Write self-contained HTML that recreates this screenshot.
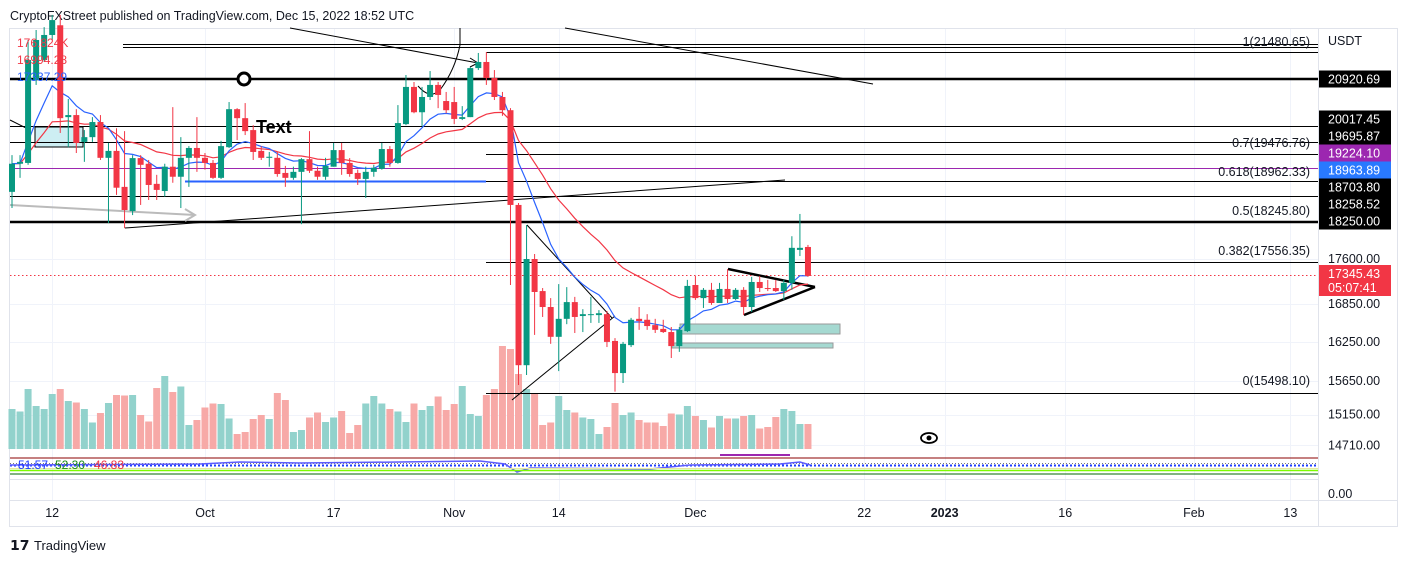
<!DOCTYPE html>
<html><head><meta charset="utf-8"><style>
html,body{margin:0;padding:0;background:#fff;}
svg{display:block;font-family:"Liberation Sans",sans-serif;}
</style></head><body>
<svg id="chart" width="1407" height="561" viewBox="0 0 1407 561" xmlns="http://www.w3.org/2000/svg">
<rect x="0" y="0" width="1407" height="561" fill="#fff"/>
<text x="10" y="20" font-size="12.5" fill="#131722">CryptoFXStreet published on TradingView.com, Dec 15, 2022 18:52 UTC</text>
<g id="grid" stroke="#f0f3fa" stroke-width="1"></g>
<rect x="9.5" y="28.5" width="1388" height="498" fill="none" stroke="#e0e3eb"/>
<line x1="1318.5" y1="28" x2="1318.5" y2="527" stroke="#e0e3eb"/>
<line x1="9" y1="500.5" x2="1398" y2="500.5" stroke="#e0e3eb"/>
<line x1="9" y1="479.5" x2="1318" y2="479.5" stroke="#e0e3eb"/>
<g id="vol"></g>
<g id="drawings">
 <rect x="35" y="127" width="48" height="20" fill="#cdeef3" stroke="#000" stroke-width="1"/>
 <line x1="123" y1="44.5" x2="1318" y2="44.5" stroke="#000"/>
 <line x1="123" y1="47.5" x2="1318" y2="47.5" stroke="#000"/>
 <line x1="486" y1="52.5" x2="1318" y2="52.5" stroke="#000"/>
 <line x1="10" y1="79" x2="1318" y2="79" stroke="#000" stroke-width="2.5"/>
 <line x1="10" y1="126.5" x2="1318" y2="126.5" stroke="#000"/>
 <line x1="10" y1="142.5" x2="1318" y2="142.5" stroke="#000"/>
 <line x1="486" y1="154.5" x2="1318" y2="154.5" stroke="#000"/>
 <line x1="10" y1="168.5" x2="1318" y2="168.5" stroke="#9c27b0"/>
 <line x1="185" y1="181.5" x2="486" y2="181.5" stroke="#2962ff" stroke-width="2"/>
 <line x1="486" y1="181.5" x2="1318" y2="181.5" stroke="#000"/>
 <line x1="10" y1="196.5" x2="1318" y2="196.5" stroke="#000"/>
 <line x1="10" y1="222" x2="1318" y2="222" stroke="#000" stroke-width="2.5"/>
 <line x1="486" y1="262.5" x2="1318" y2="262.5" stroke="#000"/>
 <line x1="486" y1="393.5" x2="1318" y2="393.5" stroke="#000"/>
 <line x1="10" y1="275.5" x2="1318" y2="275.5" stroke="#f23645" stroke-dasharray="1.5,2.5"/>
 <line x1="290" y1="28" x2="478" y2="63" stroke="#000"/>
 <path d="M470,58 L478,63 L470,67" fill="none" stroke="#000"/>
 <line x1="565" y1="28" x2="873" y2="84" stroke="#000"/>
 <line x1="125" y1="228" x2="785" y2="180" stroke="#000"/>
 <line x1="10" y1="205" x2="195" y2="215" stroke="#bbb" stroke-width="2"/>
 <path d="M185,209 L195,215 L185,221" fill="none" stroke="#bbb" stroke-width="2"/>
 <line x1="10" y1="120" x2="30" y2="130" stroke="#000"/>
 <path d="M460,28 L460,45 Q455,70 440,90" fill="none" stroke="#000"/>
 <path d="M418,86 Q430,100 440,90" fill="none" stroke="#000"/>
 <line x1="527" y1="225" x2="612" y2="318" stroke="#000"/>
 <line x1="512" y1="400" x2="615" y2="316" stroke="#000"/>
 <line x1="728" y1="269" x2="815" y2="287" stroke="#000" stroke-width="2.5"/>
 <line x1="744" y1="315" x2="815" y2="287" stroke="#000" stroke-width="2.5"/>
 <rect x="680" y="324" width="160" height="10" fill="#a5d9d1" stroke="#999"/>
 <rect x="672" y="343" width="161" height="5" fill="#a5d9d1" stroke="#999"/>
 <circle cx="244" cy="79" r="6" fill="#fff" stroke="#000" stroke-width="3"/>
 <text x="256" y="133" font-size="18" font-weight="bold" fill="#000">Text</text>
</g>
<g id="ma"></g>
<g id="candles"></g>
<g font-size="12">
 <text x="17" y="47" fill="#f23645">176.824K</text>
 <text x="17" y="64" fill="#f23645">16994.28</text>
 <text x="17" y="81" fill="#2962ff">17337.29</text>
</g>
<g>
 <line x1="10" y1="458" x2="1318" y2="458" stroke="#8b0000"/>
 <line x1="10" y1="463.5" x2="1318" y2="463.5" stroke="#777" stroke-dasharray="1,2"/>
 <line x1="10" y1="465.5" x2="1318" y2="465.5" stroke="#1e3cff" stroke-width="2" stroke-dasharray="2,2"/>
 <path d="M10,465 L200,464 L240,462 L300,463 L400,462 L480,461 L505,464 L517,472 L530,468 L650,469 L690,465 L780,464 L800,462 L810,465" fill="none" stroke="#5b5bff" stroke-width="1.5"/>
 <line x1="10" y1="468.5" x2="1318" y2="468.5" stroke="#e8e8a0"/>
 <line x1="10" y1="470.5" x2="1318" y2="470.5" stroke="#7cfc00" stroke-width="1.5"/>
 <line x1="10" y1="474" x2="1318" y2="474" stroke="#006400"/>
 <line x1="720" y1="455" x2="790" y2="455" stroke="#9c27b0" stroke-width="2"/>
 <text x="18" y="469" font-size="12" fill="#1e3cff">51.57</text>
 <text x="55" y="469" font-size="12" fill="#1a8c1a">52.30</text>
 <text x="94" y="469" font-size="12" fill="#f23645">46.83</text>
</g>
<g transform="translate(929,438)">
 <ellipse cx="0" cy="0" rx="8" ry="5" fill="none" stroke="#000" stroke-width="1.8"/>
 <circle cx="0" cy="0" r="2.5" fill="#000"/>
</g>
<g id="yaxis" font-size="12.5"></g>
<g id="xaxis" font-size="12.5" fill="#131722"></g>
<g>
 <text x="10" y="550" font-size="14" font-weight="bold" fill="#131722">𝟭𝟳</text>
 <text x="34" y="550" font-size="13" fill="#131722">TradingView</text>
</g>
</svg>
<script>
const opens=[18775,19290,19305,20910,21316,21835,22040,20175,20215,19700,19790,20080,19400,19530,18865,18430,19395,19290,18920,18790,19235,19050,19400,19585,19400,19305,19030,19600,20330,20155,19925,19530,19400,19400,19120,19030,19140,19375,19160,19050,19235,19545,19305,19120,19010,19140,19195,19565,19305,20040,20770,20270,20570,20810,20490,20470,20140,20175,21150,21275,20950,20570,20310,18540,15890,17600,17065,16805,16330,16615,16885,16660,16675,16675,16690,16265,15770,16200,16615,16600,16515,16455,16405,16185,16420,17165,16950,17085,16870,17100,16935,17085,16805,17215,17115,17115,17065,17200,17755,17805];
const highs=[19450,19450,21730,21940,22000,22260,22260,20530,20330,19925,20175,20215,19680,19960,19905,19450,19450,19360,19085,19290,20370,19790,19620,20175,19490,19360,19720,20470,20350,20450,20020,19620,19510,19510,19250,19235,19395,19905,19235,19400,19680,19680,19395,19180,19235,19270,19680,19620,20410,21010,20870,20770,21090,20870,20670,20770,20390,21170,21460,21480,21110,20670,20350,18575,18185,17685,17115,16950,17180,17130,16970,16770,16970,16755,16740,16310,16250,16630,16805,16690,16615,16600,16485,16485,17250,17315,17115,17200,17200,17430,17115,17130,17300,17315,17250,17250,17250,17990,18380,17840];
const lows=[18485,19030,19270,20810,21275,21730,19870,19600,19490,19325,19700,19360,18220,18720,18130,18360,18540,18629,18629,18690,18940,18485,18865,19140,19180,19010,19010,19585,19735,19830,19360,19360,19235,19050,18865,18994,18200,19120,18994,18994,19235,19085,19050,18900,18665,19050,19180,19235,19290,20020,20250,20000,20510,20350,20250,20040,20118,20175,21110,20810,20510,20200,17165,15590,15740,16360,16645,16220,15800,16530,16390,16405,16550,16550,16170,15490,15620,16170,16440,16440,16390,16390,16000,16095,16405,16920,16790,16840,16870,16870,16920,16675,16725,17050,17065,17050,16920,17085,17650,17300];
const closes=[19290,19325,21316,21730,21835,22150,20155,20215,19680,19790,20080,19400,19530,18850,18450,19395,19270,18900,18810,19235,19050,19400,19585,19400,19305,19030,19620,20330,20155,19905,19510,19400,19420,19100,19030,19140,19375,19160,19050,19250,19545,19305,19100,19010,19140,19215,19565,19305,20060,20770,20270,20570,20810,20610,20310,20140,20175,21150,21275,20950,20570,20310,18540,15890,17600,17050,16805,16330,16615,16885,16645,16690,16690,16705,16250,15770,16220,16600,16580,16500,16440,16405,16185,16440,17150,16950,17085,16870,17100,16935,17085,16805,17215,17115,17100,17065,17200,17790,17790,17315];
const volumes=[80,75,120,86,80,110,120,96,93,80,53,72,92,108,107,108,68,55,122,146,114,125,48,58,83,91,90,61,30,34,60,68,60,112,98,34,38,63,73,54,63,76,32,48,91,106,91,80,75,54,91,78,86,105,78,90,126,70,66,108,120,206,200,150,120,110,48,53,106,78,73,63,60,30,44,92,68,73,58,53,53,46,71,69,86,66,58,43,66,61,61,66,68,41,44,64,80,76,50,50];
const priceTicks=[17600,16850,16250,15650,15150,14710];
const boxLabels=[["20920.69",20920.69,"#000"],["20017.45",20017.45,"#000"],["19695.87",19695.87,"#000"],["19224.10",19224.10,"#9c27b0"],["18963.89",18963.89,"#2979ff"],["18703.80",18703.80,"#000"],["18258.52",18258.52,"#000"],["18250.00",18250.00,"#000"]];
const fibLevels=["1(21480.65)","0.7(19476.76)","0.618(18962.33)","0.5(18245.80)","0.382(17556.35)","0(15498.10)"];
const fibY=[46,147,176,215,255,385];
const timeLabels=["12","Oct","17","Nov","14","Dec","22","2023","16","Feb","13"];
const timeDays=[5,24,40,55,68,85,106,116,131,147,159];
const lastPrice=17345.43;

const NS="http://www.w3.org/2000/svg";
function xOf(i){return 12+i*8.04;}
function yOf(p){return 259-1039*Math.log(p/17600);}
function mk(tag,attrs,parent){const e=document.createElementNS(NS,tag);for(const k in attrs)e.setAttribute(k,attrs[k]);parent.appendChild(e);return e;}
const G=id=>document.getElementById(id);

const grid=G('grid');
timeDays.forEach(d=>{const x=Math.round(xOf(d))+0.5;mk('line',{x1:x,y1:28,x2:x,y2:500},grid);});
priceTicks.forEach(p=>{const y=Math.round(yOf(p))+0.5;mk('line',{x1:10,y1:y,x2:1318,y2:y},grid);});

const vg=G('vol');
volumes.forEach((v,i)=>{
  const up=closes[i]>=opens[i];
  const h=v/2;
  const r=mk('rect',{x:xOf(i)-3.5,y:449-h,width:7,height:h,fill:up?'#92d2cc':'#f7a9a7'},vg);
  
  
});

function ema(arr,n){const k=2/(n+1);const out=[];let e=arr[0];arr.forEach((v,i)=>{e=i?v*k+e*(1-k):v;out.push(e);});return out;}
function drawLine(vals,color,name){
  let d='';vals.forEach((v,i)=>{d+=(d?'L':'M')+xOf(i).toFixed(1)+','+yOf(v).toFixed(1);});
  const p=mk('path',{d:d,fill:'none',stroke:color,'stroke-width':1.2},G('ma'));
  
  
}
drawLine(ema(closes,21),'#f23645','ema-slow');
drawLine(ema(closes,9),'#2962ff','ema-fast');

const cg=G('candles');
closes.forEach((c,i)=>{
  const o=opens[i],up=c>=o,col=up?'#089981':'#f23645',x=xOf(i);
  const w=mk('line',{x1:x,y1:yOf(highs[i]),x2:x,y2:yOf(lows[i]),stroke:col,'stroke-width':1},cg);
  
  
  const top=yOf(Math.max(o,c)),bot=yOf(Math.min(o,c));
  const b=mk('rect',{x:x-3,y:top,width:6,height:Math.max(1,bot-top),fill:col},cg);
  
  
});

const ya=G('yaxis');
mk('text',{x:1328,y:45,fill:'#131722'},ya).textContent='USDT';
priceTicks.forEach(p=>{const t=mk('text',{x:1328,y:yOf(p)+4,fill:'#131722'},ya);t.textContent=p.toFixed(2);});
mk('text',{x:1328,y:498,fill:'#131722'},ya).textContent='0.00';
let nextBottom=1000;
for(let j=boxLabels.length-1;j>=0;j--){
  const [s,p,col]=boxLabels[j];
  let top=Math.round(yOf(p))-8.5;
  if(top+17>nextBottom)top=nextBottom-17;
  nextBottom=top;
  const r=mk('rect',{x:1319,y:top,width:72,height:17,fill:col},ya);
  
  
  mk('text',{x:1328,y:top+13,fill:'#fff'},ya).textContent=s;
}
const lp=Math.round(yOf(lastPrice))-9;
const lr=mk('rect',{x:1319,y:lp,width:72,height:31,fill:'#f23645'},ya);


mk('text',{x:1328,y:lp+13,fill:'#fff'},ya).textContent=lastPrice.toFixed(2);
mk('text',{x:1328,y:lp+27,fill:'#fff'},ya).textContent='05:07:41';
fibLevels.forEach((s,i)=>{const t=mk('text',{x:1310,y:fibY[i],fill:'#131722','text-anchor':'end'},ya);t.textContent=s;});

const xa=G('xaxis');
timeLabels.forEach((s,i)=>{const t=mk('text',{x:xOf(timeDays[i]),y:517,'text-anchor':'middle','font-weight':s==='2023'?'bold':'normal'},xa);t.textContent=s;});
</script>
</body></html>
